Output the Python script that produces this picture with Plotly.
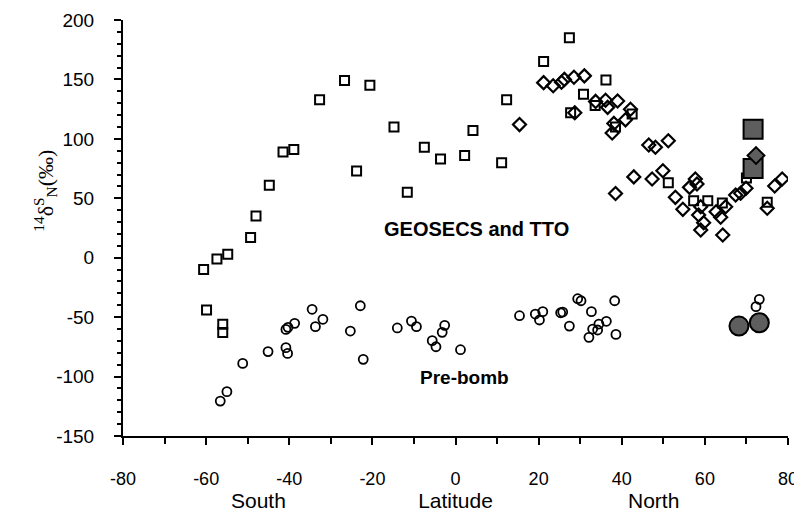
import plotly.graph_objects as go

# GEOSECS and TTO - open squares
sq_lat = [-60.6, -57.4, -54.8, -49.3, -48.0, -44.8, -41.5, -38.9, -32.7, -26.7,
          -23.8, -20.6, -14.8, -11.6, -7.5, -3.6, 2.2, 4.2, 11.1, 12.3,
          21.2, 27.4, 27.7, 30.8, 33.6, 36.2, 38.5, 42.5, 51.2, 57.3,
          60.7, 64.2, 70.0, 75.0, -59.9, -56.0, -56.0]
sq_val = [-10, -1, 3, 17, 35, 61, 89, 91, 133, 149,
          73, 145, 110, 55, 93, 83, 86, 107, 80, 133,
          165, 185, 122, 137.5, 128, 149.5, 110, 121, 63, 48,
          48, 46, 67, 46.6, -44, -56, -63]

# GEOSECS and TTO - open diamonds
dm_lat = [15.4, 21.2, 23.5, 25.5, 26.2, 28.5, 31.0, 28.7, 33.7, 36.1,
          36.6, 39.0, 42.1, 40.9, 38.1, 37.7, 38.5, 42.9, 46.5, 48.1,
          51.2, 47.3, 49.9, 52.9, 54.7, 56.3, 57.7, 58.1, 59.0, 58.5,
          59.7, 59.0, 62.7, 63.8, 65.0, 64.3, 67.4, 68.6, 69.9, 76.8,
          78.6, 75.0]
dm_val = [112, 147.3, 144.7, 147.6, 150, 151.8, 153, 122, 131.5, 132.5,
          126.5, 131.8, 124.9, 116, 113, 105, 54, 68, 94.8, 92.9,
          98.4, 66.2, 73.2, 50.8, 40.7, 59.2, 66.2, 62, 42.9, 35.9,
          29.4, 23.3, 38.7, 34, 42.9, 19.1, 52.8, 54.2, 58.4, 60.3,
          66.2, 41.6]

# filled (shaded) symbols
fsq_lat = [71.6, 71.6]
fsq_val = [108, 75]
fdm_lat = [72.3]
fdm_val = [86]

# Pre-bomb - open circles
ci_lat = [-56.6, -55.0, -51.2, -45.1, -40.8, -40.4, -40.8, -40.3, -38.7, -34.5,
          -33.7, -31.9, -25.3, -22.9, -22.2, -14.0, -10.6, -9.4, -5.6, -4.7,
          -3.2, -2.6, 1.2, 15.4, 19.2, 20.2, 21.0, 25.3, 25.8, 27.4,
          29.4, 30.2, 32.7, 32.1, 33.0, 34.2, 34.5, 36.3, 38.3, 38.6,
          73.1, 72.3]
ci_val = [-120.6, -112.7, -88.9, -79, -75.7, -80.5, -60.3, -58.6, -55.2, -43.4,
          -58, -51.8, -61.7, -40.4, -85.5, -59.1, -53.3, -58, -69.8, -74.9,
          -62.8, -56.9, -77.4, -48.8, -47.4, -52.4, -45.4, -46.3, -45.7, -57.5,
          -34.5, -36.2, -45.4, -67, -60, -60.8, -55.8, -53.5, -36.2, -64.5,
          -35, -41.2]
fci_lat = [68.2, 73.1]
fci_val = [-57.5, -54.7]

x_ticks = [-80, -60, -40, -20, 0, 20, 40, 60, 80]
y_ticks = [-150, -100, -50, 0, 50, 100, 150, 200]

FONT = "Liberation Sans, Arial, sans-serif"
SHADE = "#5e5e5e"

fig = go.Figure()
fig.add_trace(go.Scatter(x=sq_lat, y=sq_val, mode="markers",
                         marker=dict(symbol="square-open", size=9, color="black",
                                     line=dict(width=2, color="black"))))
fig.add_trace(go.Scatter(x=dm_lat, y=dm_val, mode="markers",
                         marker=dict(symbol="diamond-open", size=10, color="black",
                                     line=dict(width=2.2, color="black"))))
fig.add_trace(go.Scatter(x=ci_lat, y=ci_val, mode="markers",
                         marker=dict(symbol="circle-open", size=9, color="black",
                                     line=dict(width=1.8, color="black"))))
fig.add_trace(go.Scatter(x=fsq_lat, y=fsq_val, mode="markers",
                         marker=dict(symbol="square", size=19, color=SHADE,
                                     line=dict(width=2, color="black"))))
fig.add_trace(go.Scatter(x=fdm_lat, y=fdm_val, mode="markers",
                         marker=dict(symbol="diamond", size=13, color=SHADE,
                                     line=dict(width=2, color="black"))))
fig.add_trace(go.Scatter(x=fci_lat, y=fci_val, mode="markers",
                         marker=dict(symbol="circle", size=19, color=SHADE,
                                     line=dict(width=2, color="black"))))

# the page body adds an 8 px margin, so the figure is sized to fit the window
fig.update_layout(
    width=794, height=504,
    margin=dict(l=115, r=14, t=12, b=76, autoexpand=False),
    paper_bgcolor="white", plot_bgcolor="white",
    showlegend=False,
    font=dict(family=FONT, color="black"),
)

fig.update_xaxes(
    range=[-80, 80], tickvals=x_ticks, ticktext=[str(v) for v in x_ticks],
    showgrid=False, zeroline=False, automargin=False,
    showline=True, linecolor="black", linewidth=2,
    ticks="outside", ticklen=7, tickwidth=2, tickcolor="black",
    minor=dict(dtick=10, tick0=0, ticks="outside", ticklen=6, tickwidth=1.5, tickcolor="black"),
    tickfont=dict(size=18, family=FONT, color="black"),
    ticklabelstandoff=18,
    title=dict(text="Latitude", font=dict(size=21, family=FONT), standoff=2),
)
fig.update_yaxes(
    range=[-150, 200], tickvals=y_ticks, ticktext=[str(v) for v in y_ticks],
    showgrid=False, zeroline=False, automargin=False,
    showline=True, linecolor="black", linewidth=2,
    ticks="outside", ticklen=7, tickwidth=2, tickcolor="black",
    minor=dict(dtick=10, tick0=0, ticks="outside", ticklen=4, tickwidth=1.5, tickcolor="black"),
    tickfont=dict(size=19, family=FONT, color="black"),
    ticklabelstandoff=16,
)

fig.add_annotation(text="South", x=-47.5, y=-0.155, xref="x", yref="paper",
                   xanchor="center", yanchor="middle",
                   showarrow=False, font=dict(size=21, family=FONT))
fig.add_annotation(text="North", x=47.7, y=-0.155, xref="x", yref="paper",
                   xanchor="center", yanchor="middle",
                   showarrow=False, font=dict(size=21, family=FONT))
fig.add_annotation(text="GEOSECS and TTO", x=5.1, y=24, xref="x", yref="y",
                   xanchor="center", yanchor="middle",
                   showarrow=False, font=dict(size=20, family=FONT, weight="bold"))
fig.add_annotation(text="Pre-bomb", x=2.2, y=-101, xref="x", yref="y",
                   xanchor="center", yanchor="middle",
                   showarrow=False, font=dict(size=19, family=FONT, weight="bold"))
fig.add_annotation(text="<sup>14</sup>δ<sup>S</sup><sub>N</sub>(‰)",
                   x=-0.117, y=0.59, xref="paper", yref="paper",
                   xanchor="center", yanchor="middle",
                   showarrow=False, textangle=-90,
                   font=dict(size=22, family="Liberation Serif, Times New Roman, serif"))

fig.write_html("out.html")
